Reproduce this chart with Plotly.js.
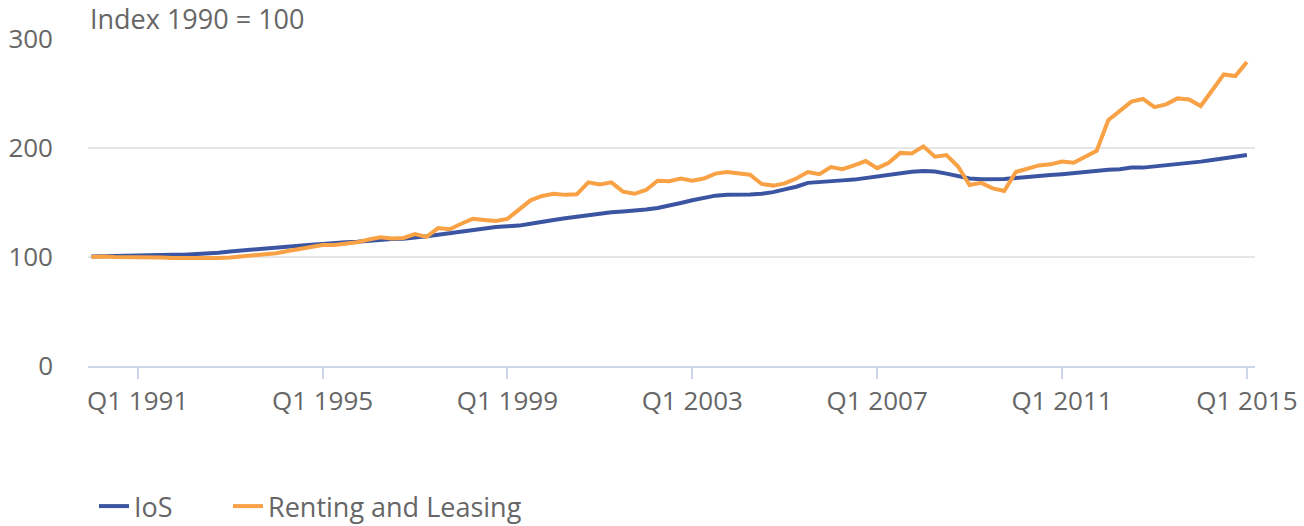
<!DOCTYPE html>
<html>
<head>
<meta charset="utf-8">
<script src="https://cdn.plot.ly/plotly-3.0.1.min.js"></script>
<style>
html,body{margin:0;padding:0;background:#fff;}
#chart{width:1304px;height:526px;}
</style>
</head>
<body>
<div id="chart"></div>
<script>
// Quarters Q1 1990 .. Q1 2015
const quarters = [];
for (let y = 1990; y <= 2015; y++) {
  for (let q = 1; q <= 4; q++) {
    if (y === 2015 && q > 1) break;
    quarters.push('Q' + q + ' ' + y);
  }
}
const tickLabels = ['Q1 1991','Q1 1995','Q1 1999','Q1 2003','Q1 2007','Q1 2011','Q1 2015'];

const iosValues = [
  100.5,100.8,100.5,100.8,101,101.5,101.8,102,102,102.5,
  103.2,104,105,106,106.8,107.5,108.5,109.5,110.5,111.3,
  112,112.3,113.5,114,115,116,116.5,116.8,117.5,119,
  120.5,122,123,124.5,126,127.5,128.2,128.8,130.5,132.5,
  134,135.5,137,138,140,141,141.7,142.2,143.5,145,
  147,149.5,152,154.5,156.3,157,157,157.3,158,159.5,
  162,164.5,168,169,169.8,170.3,171,172.5,174,176,
  177.5,178.2,178.8,178.5,176.5,174,172,171.3,171.2,171.5,
  172.5,173.5,175,175.2,176,177,178.5,179,180,180.5,
  182,182,183,184,185,186,187.5,189,190.5,192.3,
  193.5
];

const rentingValues = [
  100,100.5,100,100,100,100,99.5,99,98.8,98.5,
  98.5,99,99.5,100.5,101.5,102.5,103.5,105.5,107.5,109.5,
  111,111,112,113.5,116,118,117,117.5,121,118.5,
  126.5,125.5,130.5,135,134,133,135,144,152,156,
  158,157,157.5,168.5,166.5,168.5,160,158,161.5,170,
  169.5,172,170,172,176.5,178,177,175.5,167,165.5,
  167.5,172,178,176,182.5,180.5,184,188,181.5,186.5,
  195.5,195,201.5,192,193.5,183,166,168,163,160.5,
  178,181,184,185,187.5,186.5,192,197.5,225.5,234.5,
  242.5,245,237.5,240,245.5,244.5,238.5,253,267.5,266,
  279
];

const seriesNames = ['IoS', 'Renting and Leasing'];
const seriesColors = ['#3b55a2', '#f8a145'];

const font = 'Open Sans, Noto Sans, sans-serif';

const traces = [
  {x: quarters, y: iosValues, name: seriesNames[0], type: 'scatter', mode: 'lines',
   line: {color: seriesColors[0], width: 4}, legend: 'legend'},
  {x: quarters, y: rentingValues, name: seriesNames[1], type: 'scatter', mode: 'lines',
   line: {color: seriesColors[1], width: 4}, legend: 'legend2'}
];

const legendBase = {
  orientation: 'h', xref: 'container', yref: 'container',
  xanchor: 'left', y: 0.037, yanchor: 'middle',
  font: {family: font, size: 27, color: '#666666'},
  bgcolor: 'rgba(0,0,0,0)'
};

const layout = {
  width: 1304, height: 526,
  margin: {l: 88, r: 49, t: 39, b: 160},
  paper_bgcolor: '#ffffff', plot_bgcolor: '#ffffff',
  font: {family: font, color: '#666666', size: 26},
  showlegend: true,
  legend: Object.assign({}, legendBase, {x: 94 / 1304}),
  legend2: Object.assign({}, legendBase, {x: 228 / 1304}),
  xaxis: {
    type: 'category',
    range: [-0.3, 100.7],
    tickmode: 'array', tickvals: tickLabels, ticktext: tickLabels,
    showgrid: false, zeroline: false,
    showline: true, linecolor: '#ccd6eb', linewidth: 2,
    ticks: 'outside', ticklen: 11, tickwidth: 2, tickcolor: '#ccd6eb',
    tickfont: {family: font, size: 26, color: '#666666'},
    fixedrange: true
  },
  yaxis: {
    range: [0, 300],
    tickvals: [0, 100, 200, 300],
    showgrid: true, gridcolor: '#e6e6e6', gridwidth: 2,
    zeroline: false, showline: false,
    ticks: '', ticklabelstandoff: 34,
    tickfont: {family: font, size: 26, color: '#666666'},
    fixedrange: true
  },
  annotations: [{
    text: 'Index 1990 = 100', xref: 'paper', yref: 'paper', x: 0, y: 1,
    xanchor: 'left', yanchor: 'bottom', yshift: 0, showarrow: false,
    font: {family: font, size: 27, color: '#666666'}
  }],
  hovermode: false
};

Plotly.newPlot('chart', traces, layout, {displayModeBar: false, staticPlot: true});
</script>
</body>
</html>
